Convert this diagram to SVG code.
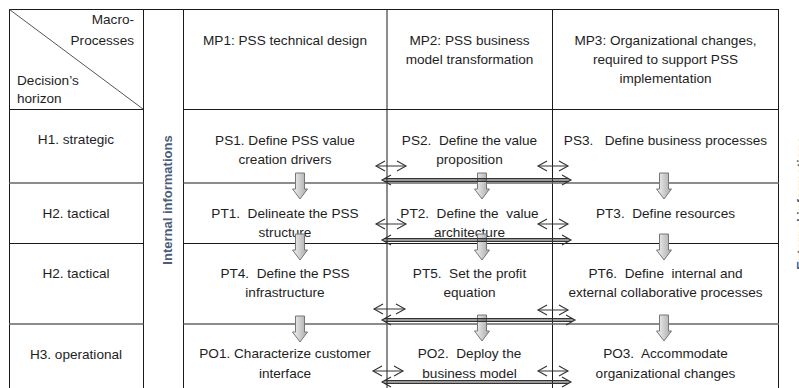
<svg xmlns="http://www.w3.org/2000/svg" width="799" height="388" viewBox="0 0 799 388">
<defs>
<style>
.t{font-family:"Liberation Sans",Arial,sans-serif;font-size:13.6px;fill:#1e1e1e;text-anchor:middle;white-space:pre}
.l{stroke:#1a1a1a;stroke-width:1;fill:none}
.g{stroke:#666;stroke-width:1.6;fill:none}
.side{font-family:"Liberation Sans",Arial,sans-serif;font-size:13px;font-weight:bold;fill:#4d5c78;text-anchor:middle}
.dbl{stroke:#333;stroke-width:1;fill:none;marker-start:url(#chev);marker-end:url(#chev)}
.par{stroke:#333;stroke-width:1;fill:none}
.blk{fill:url(#grad);stroke:#777;stroke-width:1}
</style>
<linearGradient id="grad" x1="0" y1="0" x2="1" y2="0">
<stop offset="0" stop-color="#f4f4f4"/>
<stop offset="1" stop-color="#a8a8a8"/>
</linearGradient>
<marker id="chev" markerUnits="userSpaceOnUse" markerWidth="12" markerHeight="12" refX="9" refY="5" orient="auto-start-reverse" viewBox="-1 -1 12 12">
<path d="M0,0 L9,5 L0,10" fill="none" stroke="#333" stroke-width="1.1"/>
</marker>
<path id="barrow" d="M-4.5,0 H4.5 V16 H7.5 L0,26 L-7.5,16 H-4.5 Z"/>
</defs>

<g id="table">
<line class="l" x1="9" y1="9.5" x2="779" y2="9.5"/>
<line class="l" x1="9.5" y1="9" x2="9.5" y2="388"/>
<line class="l" x1="143.5" y1="9" x2="143.5" y2="388"/>
<line class="l" x1="183.5" y1="9" x2="183.5" y2="388"/>
<line class="l" x1="387" y1="9" x2="387" y2="388" stroke="#444"/>
<line class="l" x1="552.5" y1="9" x2="552.5" y2="388"/>
<line class="l" x1="778.5" y1="9" x2="778.5" y2="388"/>
<line class="l" x1="9" y1="109.5" x2="143.5" y2="109.5"/>
<line class="l" x1="183.5" y1="109.5" x2="779" y2="109.5"/>
<line class="g" x1="9" y1="183" x2="143.5" y2="183"/>
<line class="g" x1="183.5" y1="183" x2="779" y2="183"/>
<line class="l" x1="9" y1="243.5" x2="143.5" y2="243.5"/>
<line class="l" x1="183.5" y1="243.5" x2="779" y2="243.5"/>
<line class="g" x1="9" y1="324" x2="143.5" y2="324"/>
<line class="g" x1="183.5" y1="324" x2="779" y2="324"/>
<line x1="9.5" y1="9.5" x2="143" y2="109" stroke="#555" stroke-width="1"/>
</g>

<g id="header">
<text class="t" x="134" y="24" style="text-anchor:end">Macro-</text>
<text class="t" x="134" y="45" style="text-anchor:end">Processes</text>
<text class="t" x="17" y="85" style="text-anchor:start">Decision’s</text>
<text class="t" x="17" y="103" style="text-anchor:start">horizon</text>
</g>

<g id="mp1"><text class="t" x="285" y="45">MP1: PSS technical design</text></g>
<g id="mp2"><text class="t" x="469.5" y="45">MP2: PSS business</text><text class="t" x="469.5" y="64">model transformation</text></g>
<g id="mp3"><text class="t" x="665.5" y="45">MP3: Organizational changes,</text><text class="t" x="665.5" y="64">required to support PSS</text><text class="t" x="665.5" y="83">implementation</text></g>

<g id="h1"><text class="t" x="76" y="144">H1. strategic</text></g>
<g id="h2a"><text class="t" x="76" y="218">H2. tactical</text></g>
<g id="h2b"><text class="t" x="76" y="278">H2. tactical</text></g>
<g id="h3"><text class="t" x="76" y="359">H3. operational</text></g>

<g id="internal"><text class="side" transform="translate(172,200) rotate(-90)">Internal informations</text></g>
<g id="external"><text class="side" transform="translate(806,203) rotate(-90)">External informations</text></g>

<g id="ps1"><text class="t" x="285" y="145">PS1. Define PSS value</text><text class="t" x="285" y="164">creation drivers</text></g>
<g id="ps2"><text class="t" x="469.5" y="145">PS2.  Define the value</text><text class="t" x="469.5" y="164">proposition</text></g>
<g id="ps3"><text class="t" x="665.5" y="145">PS3.   Define business processes</text></g>

<g id="pt1"><text class="t" x="285" y="218">PT1.  Delineate the PSS</text><text class="t" x="285" y="237">structure</text></g>
<g id="pt2"><text class="t" x="469.5" y="218">PT2.  Define the  value</text><text class="t" x="469.5" y="237">architecture</text></g>
<g id="pt3"><text class="t" x="665.5" y="218">PT3.  Define resources</text></g>

<g id="pt4"><text class="t" x="285" y="278">PT4.  Define the PSS</text><text class="t" x="285" y="297">infrastructure</text></g>
<g id="pt5"><text class="t" x="469.5" y="278">PT5.  Set the profit</text><text class="t" x="469.5" y="297">equation</text></g>
<g id="pt6"><text class="t" x="665.5" y="278">PT6.  Define  internal and</text><text class="t" x="665.5" y="297">external collaborative processes</text></g>

<g id="po1"><text class="t" x="285" y="358">PO1. Characterize customer</text><text class="t" x="285" y="378">interface</text></g>
<g id="po2"><text class="t" x="469.5" y="358">PO2.  Deploy the</text><text class="t" x="469.5" y="378">business model</text></g>
<g id="po3"><text class="t" x="665.5" y="358">PO3.  Accommodate</text><text class="t" x="665.5" y="378">organizational changes</text></g>

<g id="connectors">
<use href="#barrow" class="blk" x="300" y="173"/>
<use href="#barrow" class="blk" x="300" y="234"/>
<use href="#barrow" class="blk" x="300" y="316"/>
<use href="#barrow" class="blk" x="482" y="173"/>
<use href="#barrow" class="blk" x="482" y="234"/>
<use href="#barrow" class="blk" x="482" y="315"/>
<use href="#barrow" class="blk" x="664" y="173"/>
<use href="#barrow" class="blk" x="664" y="234"/>
<use href="#barrow" class="blk" x="664" y="315"/>

<line class="dbl" x1="376" y1="166" x2="406" y2="166"/>
<line class="dbl" x1="538" y1="166" x2="568" y2="166"/>
<line class="dbl" x1="376" y1="224" x2="406" y2="224"/>
<line class="dbl" x1="538" y1="224" x2="568" y2="224"/>
<line class="dbl" x1="374" y1="309" x2="405" y2="309"/>
<line class="dbl" x1="538" y1="310" x2="568" y2="310"/>
<line class="dbl" x1="373" y1="371" x2="403" y2="371"/>
<line class="dbl" x1="538" y1="371" x2="568" y2="371"/>

<line class="par" x1="384" y1="178.5" x2="569" y2="178.5"/>
<line class="par" x1="384" y1="181.5" x2="569" y2="181.5"/>
<line class="dbl" x1="382" y1="180" x2="571" y2="180" stroke="none"/>
<line class="par" x1="384" y1="238.5" x2="569" y2="238.5"/>
<line class="par" x1="384" y1="241.5" x2="569" y2="241.5"/>
<line class="dbl" x1="382" y1="240" x2="571" y2="240" stroke="none"/>
<line class="par" x1="384" y1="318.5" x2="573" y2="318.5"/>
<line class="par" x1="384" y1="321.5" x2="573" y2="321.5"/>
<line class="dbl" x1="382" y1="320" x2="575" y2="320" stroke="none"/>
<line class="par" x1="384" y1="380.5" x2="569" y2="380.5"/>
<line class="par" x1="384" y1="383.5" x2="569" y2="383.5"/>
<line class="dbl" x1="382" y1="382" x2="571" y2="382" stroke="none"/>
</g>
</svg>
